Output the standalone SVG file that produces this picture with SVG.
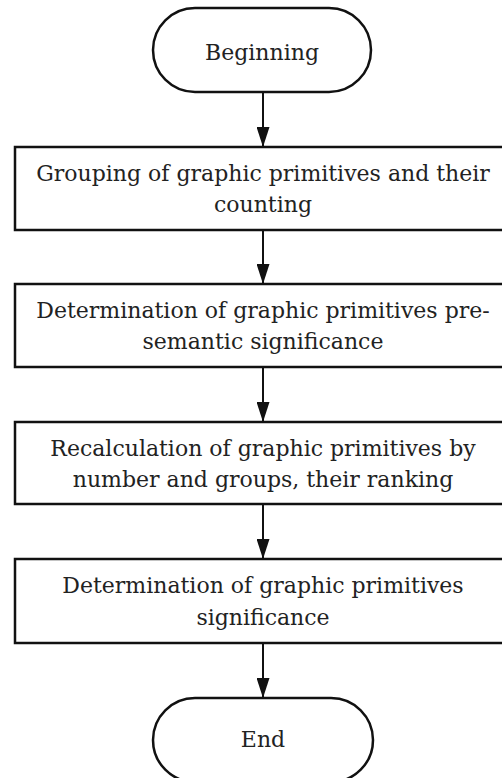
<svg xmlns="http://www.w3.org/2000/svg" width="502" height="778" viewBox="0 0 502 778">
<style>
.shape{fill:#fff;stroke:#111;stroke-width:2.5}
.t{font-size:22px;fill:#222;text-anchor:middle}
.c{stroke:#111;stroke-width:2;fill:none}
</style>
<defs>
<marker id="arr" markerWidth="20" markerHeight="13" refX="20" refY="6.5" orient="auto" markerUnits="userSpaceOnUse" viewBox="0 0 20 13">
<path d="M0,0 L20,6.5 L0,13 Z" fill="#111"/>
</marker>
</defs>
<rect width="502" height="778" fill="#fff"/>
<g id="connectors">
<line class="c" x1="263" y1="92" x2="263" y2="147" marker-end="url(#arr)"/>
<line class="c" x1="263" y1="230" x2="263" y2="284" marker-end="url(#arr)"/>
<line class="c" x1="263" y1="367" x2="263" y2="422" marker-end="url(#arr)"/>
<line class="c" x1="263" y1="504" x2="263" y2="559" marker-end="url(#arr)"/>
<line class="c" x1="263" y1="643" x2="263" y2="698" marker-end="url(#arr)"/>
</g>
<g font-family="DejaVu Serif, serif">
<g id="begin">
<rect class="shape" x="153" y="8" width="218" height="84" rx="42" ry="42"/>
<text class="t" x="262" y="60">Beginning</text>
</g>
<g id="step1">
<rect class="shape" x="15" y="147" width="496" height="83"/>
<text class="t" x="263" y="181">Grouping of graphic primitives and their</text>
<text class="t" x="263" y="212">counting</text>
</g>
<g id="step2">
<rect class="shape" x="15" y="284" width="496" height="83"/>
<text class="t" x="263" y="318">Determination of graphic primitives pre-</text>
<text class="t" x="263" y="349">semantic significance</text>
</g>
<g id="step3">
<rect class="shape" x="15" y="422" width="496" height="82"/>
<text class="t" x="263" y="456">Recalculation of graphic primitives by</text>
<text class="t" x="263" y="487">number and groups, their ranking</text>
</g>
<g id="step4">
<rect class="shape" x="15" y="559" width="496" height="84"/>
<text class="t" x="263" y="593">Determination of graphic primitives</text>
<text class="t" x="263" y="625">significance</text>
</g>
<g id="end">
<rect class="shape" x="153" y="698" width="220" height="84" rx="42" ry="42"/>
<text class="t" x="263" y="747">End</text>
</g>
</g>
</svg>
